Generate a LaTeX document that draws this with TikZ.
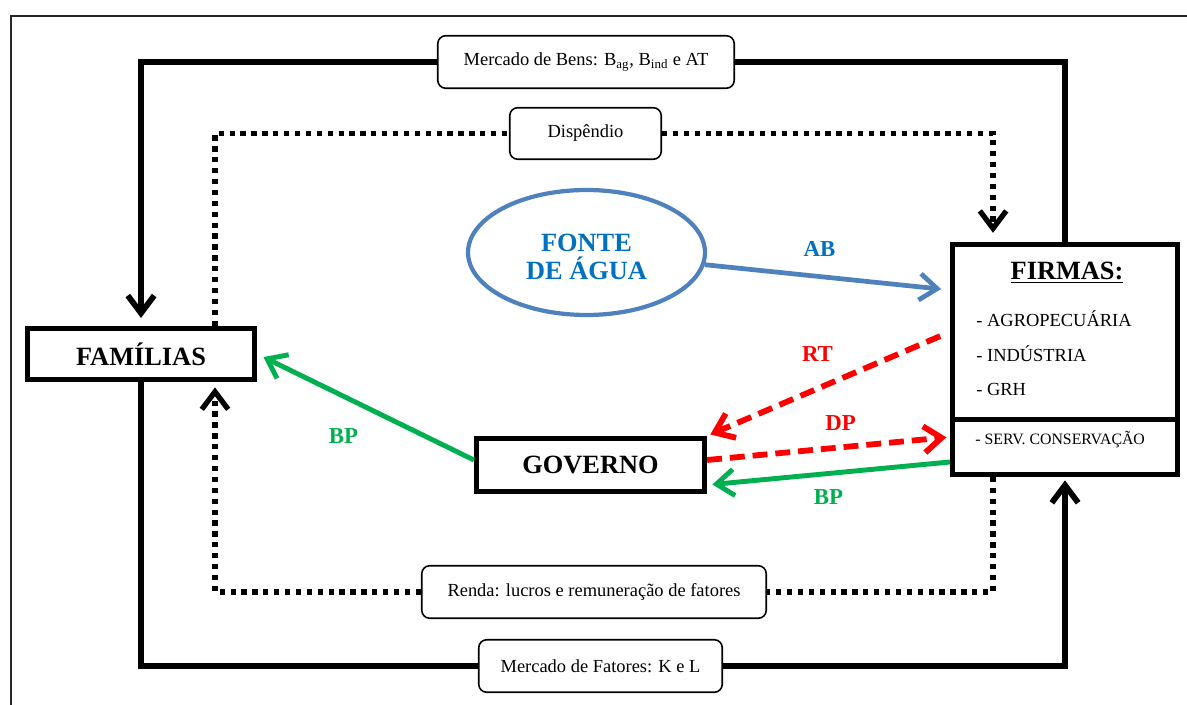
\documentclass[tikz,border=0pt]{standalone}
\usepackage{fontspec}
\setmainfont{Liberation Serif}
\usetikzlibrary{arrows.meta,shapes.geometric}
\definecolor{aguaazul}{RGB}{79,129,189}
\definecolor{textazul}{RGB}{0,112,192}
\definecolor{verde}{RGB}{0,176,80}
\definecolor{vermelho}{RGB}{255,0,0}
\begin{document}
\begin{tikzpicture}[x=0.02cm,y=-0.02cm,
 caixa/.style={draw,line width=3pt,fill=white,inner sep=0pt},
 mercado/.style={draw,line width=0.9pt,rounded corners=4.5pt,fill=white,inner sep=0pt,font=\fontsize{10.5}{12}\selectfont},
 rotulo/.style={font=\bfseries\fontsize{15}{15.5}\selectfont},
 item/.style={anchor=west,inner sep=0pt,font=\fontsize{10.5}{12}\selectfont},
 sigla/.style={font=\bfseries\fontsize{13}{15}\selectfont},
 fluxo/.style={line width=3.3pt},
 pontos/.style={line width=3pt,dash pattern=on 3pt off 3.2pt},
 tracos/.style={line width=3.3pt,dash pattern=on 8.5pt off 4.5pt},
 farpa/.style={-{Straight Barb[length=10pt,width=15pt]}}]
\useasboundingbox (0,0) rectangle (1187,705);
\draw[line width=1.1pt,black!85] (11,705) -- (11,16) -- (1187,16);
\node[caixa,rotulo,minimum width=4.54cm,minimum height=1.02cm] (familias) at (141,354) {FAMÍLIAS};
\node[caixa,rotulo,minimum width=4.56cm,minimum height=1.06cm] (governo) at (590.5,465) {GOVERNO};
\node[caixa,minimum width=4.5cm,minimum height=3.51cm] (firmas) at (1065,332) {};
\node[caixa,minimum width=4.5cm,minimum height=1.09cm] (serv) at (1065,447) {};
\node[rotulo] (titulo) at (1067,273) {\underline{FIRMAS:}};
\node[item] (agro) at (976,319) {- AGROPECUÁRIA};
\node[item] (ind) at (976,354) {- INDÚSTRIA};
\node[item] (grh) at (976,389) {- GRH};
\node[item,font=\fontsize{9}{11}\selectfont] (conserv) at (975,440) {- SERV. CONSERVAÇÃO};
\node[ellipse,draw=aguaazul,line width=2.4pt,minimum width=4.74cm,minimum height=2.5cm] (fonte) at (586.5,252.5) {};
\node[rotulo,text=textazul,align=center] (agua) at (586.5,257) {FONTE\\DE ÁGUA};
\node[mercado,minimum width=5.93cm,minimum height=1.05cm] (bens) at (586,62) {Mercado de Bens: B\textsubscript{ag}, B\textsubscript{ind} e AT};
\node[mercado,minimum width=3.03cm,minimum height=1.03cm] (disp) at (585.5,133.5) {Dispêndio};
\node[mercado,minimum width=6.89cm,minimum height=1.05cm] (renda) at (594,592) {Renda: lucros e remuneração de fatores};
\node[mercado,minimum width=4.87cm,minimum height=1.05cm] (fatores) at (600.5,666) {Mercado de Fatores: K e L};
\draw[fluxo] (firmas.north) |- (bens);
\draw[fluxo,farpa,shorten >=4.5pt] (bens) -| (familias.north);
\draw[fluxo] (familias.south) |- (fatores);
\draw[fluxo,farpa,shorten >=2pt] (fatores) -| (serv.south);
\draw[pontos] ([xshift=1.48cm]familias.north) |- (disp);
\draw[pontos,farpa,shorten >=5pt] (disp) -| ([xshift=-1.44cm]firmas.north);
\draw[pontos] ([xshift=-1.44cm]serv.south) |- (renda);
\draw[pontos,farpa,shorten >=3pt] (renda) -| ([xshift=1.48cm]familias.south);
\draw[aguaazul,line width=2.7pt,farpa,shorten >=5pt] (fonte) -- ([yshift=0.84cm]firmas.west) node[sigla,textazul,midway,xshift=-0.16cm,yshift=0.56cm] (ab) {AB};
\draw[vermelho,tracos,farpa,shorten <=6pt,shorten >=2pt] (firmas.west) -- (governo.north east) node[sigla,midway,xshift=-0.22cm,yshift=0.6cm] (rt) {RT};
\draw[vermelho,tracos,farpa,shorten >=2pt] ([yshift=0.1cm]governo.east) -- ([yshift=0.2cm]serv.west) node[sigla,midway,xshift=0.24cm,yshift=0.5cm] (dp) {DP};
\draw[verde,line width=2.8pt,farpa,shorten >=3pt] ([yshift=-0.3cm]serv.west) -- ([yshift=-0.4cm]governo.east) node[sigla,midway,yshift=-0.48cm] (bp1) {BP};
\draw[verde,line width=2.8pt,farpa,shorten >=4pt] ([yshift=0.1cm]governo.west) -- (familias.east) node[sigla,midway,xshift=-0.44cm,yshift=-0.58cm] (bp2) {BP};
\end{tikzpicture}
\end{document}
